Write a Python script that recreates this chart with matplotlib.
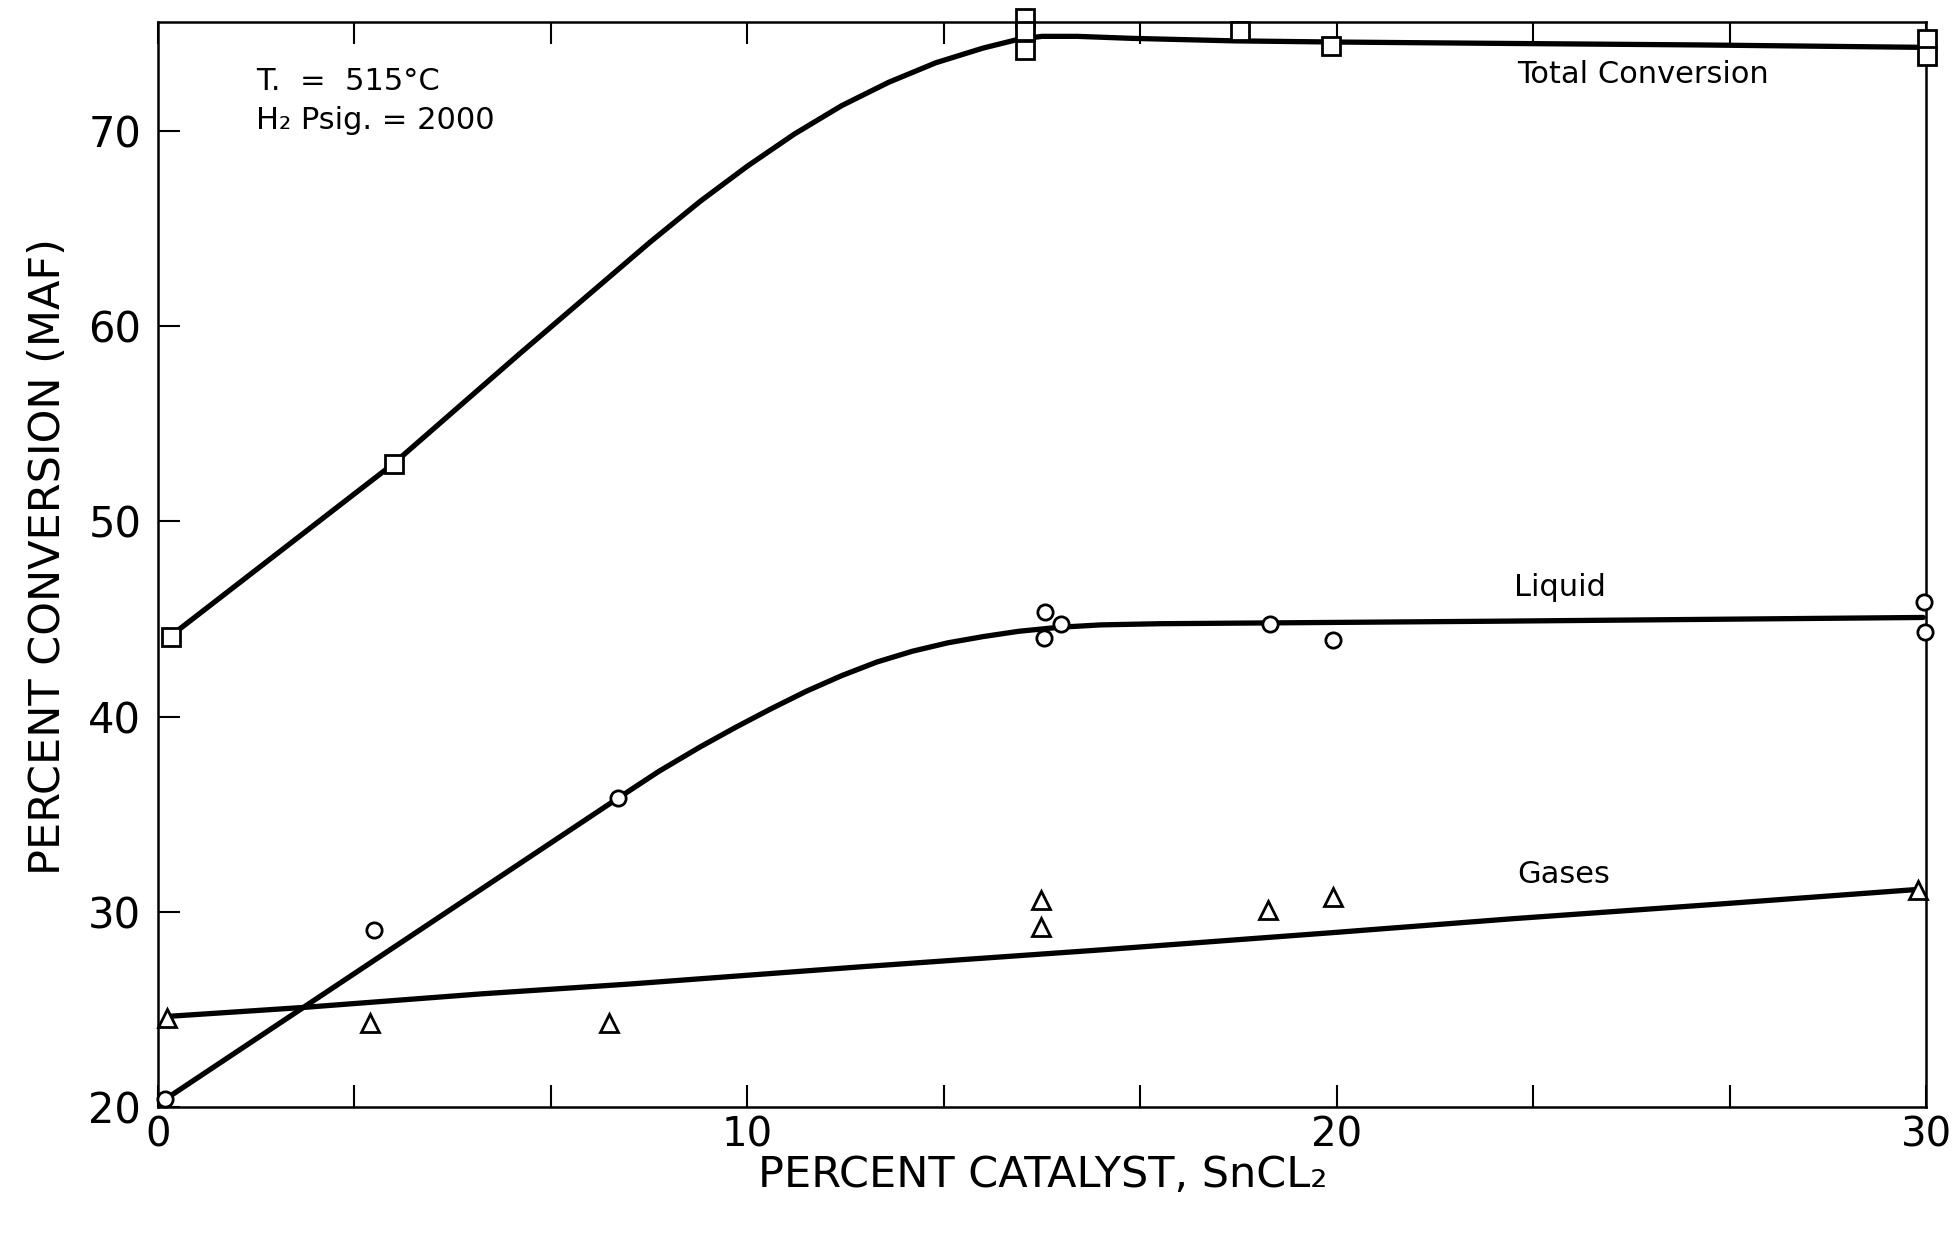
import numpy as np
import matplotlib
matplotlib.use("Agg")
from matplotlib import pyplot as plt

plt.rcParams['font.family'] = ['DejaVu Sans']

# measured points
total_x = [0.22, 4.01, 14.71, 14.71, 14.71, 18.36, 19.90, 30.02, 30.02]
total_y = [44.09, 52.96, 75.8, 75.1, 74.17, 75.15, 74.38, 74.72, 73.83]

liquid_x = [0.12, 3.67, 7.81, 15.05, 15.04, 15.32, 18.87, 19.94, 29.96, 29.98]
liquid_y = [20.39, 29.08, 35.83, 45.35, 44.03, 44.72, 44.77, 43.91, 45.85, 44.31]

gases_x = [0.15, 3.60, 7.66, 14.98, 14.98, 18.84, 19.94, 29.87]
gases_y = [24.55, 24.29, 24.29, 30.62, 29.21, 30.10, 30.78, 31.11]

# hand drawn fitted curves
total_cx = [0.20, 4.00, 6.14, 8.35, 9.20, 10.00, 10.80, 11.60, 12.40, 13.20,
            14.00, 14.60, 15.00, 15.60, 16.50, 18.24, 19.94, 22.77, 26.17, 29.85]
total_cy = [44.10, 52.97, 58.60, 64.31, 66.40, 68.20, 69.85, 71.30, 72.50, 73.50,
            74.25, 74.70, 74.85, 74.85, 74.75, 74.62, 74.56, 74.49, 74.41, 74.29]

liquid_cx = [0.12, 7.81, 8.50, 9.20, 9.80, 10.40, 11.00, 11.60, 12.20, 12.80,
             13.40, 14.00, 14.60, 15.30, 16.00, 17.00, 18.81, 22.77, 29.95]
liquid_cy = [20.39, 35.83, 37.20, 38.45, 39.45, 40.40, 41.30, 42.10, 42.80, 43.35,
             43.78, 44.10, 44.37, 44.58, 44.70, 44.76, 44.80, 44.89, 45.08]

gases_cx = [0.15, 2.46, 5.50, 8.00, 12.00, 16.00, 20.00, 23.00, 26.50, 29.87]
gases_cy = [24.64, 25.10, 25.80, 26.30, 27.20, 28.05, 28.95, 29.65, 30.40, 31.15]

xticks = [0, 10/3, 20/3, 10, 40/3, 50/3, 20, 70/3, 80/3, 30]
xticklabels = ['0', '', '', '10', '', '', '20', '', '', '30']
yticks = [20, 30, 40, 50, 60, 70]

fig = plt.figure(figsize=(19.58, 12.34), dpi=100)
ax = fig.add_axes([0.0807, 0.1029, 0.903, 0.8795])

lw = 3.8
ax.plot(total_cx, total_cy, color='black', lw=lw, solid_capstyle='round',
        solid_joinstyle='round', zorder=2)
ax.plot(liquid_cx, liquid_cy, color='black', lw=lw, solid_capstyle='round',
        solid_joinstyle='round', zorder=2)
ax.plot(gases_cx, gases_cy, color='black', lw=lw, solid_capstyle='round',
        solid_joinstyle='round', zorder=2)

mk = dict(linestyle='none', markerfacecolor='white', markeredgecolor='black',
          markeredgewidth=2.0, zorder=3, clip_on=False)
ax.plot(total_x, total_y, marker='s', markersize=13, **mk)
ax.plot(liquid_x, liquid_y, marker='o', markersize=11, **mk)
ax.plot(gases_x, gases_y, marker='^', markersize=13, **mk)

ax.set_xlim(0, 30)
ax.set_ylim(20, 75.6)

ax.set_xticks(xticks)
ax.set_xticklabels(xticklabels)
ax.set_yticks(yticks)
ax.tick_params(axis='x', direction='in', length=16, width=1.5, top=True,
               labelsize=29, pad=6)
ax.tick_params(axis='y', direction='in', length=16, width=1.5, right=False,
               labelsize=30, pad=12)
for s in ax.spines.values():
    s.set_linewidth(1.8)

ax.text(23.06, 72.9, 'Total Conversion', fontsize=22, va='center', ha='left')
ax.text(23.0, 46.6, 'Liquid', fontsize=22, va='center', ha='left')
ax.text(23.06, 31.9, 'Gases', fontsize=22, va='center', ha='left')
ax.text(1.66, 72.55, 'T.  =  515°C', fontsize=22, va='center', ha='left')
ax.text(1.66, 70.55, 'H₂ Psig. = 2000', fontsize=22, va='center', ha='left')

fig.text(0.0243, 0.549, 'PERCENT CONVERSION (MAF)', rotation=90, fontsize=31,
         ha='center', va='center')
fig.text(0.5327, 0.0478, 'PERCENT CATALYST, SnCL₂', fontsize=31,
         ha='center', va='center')

fig.savefig('out.png', dpi=100)
